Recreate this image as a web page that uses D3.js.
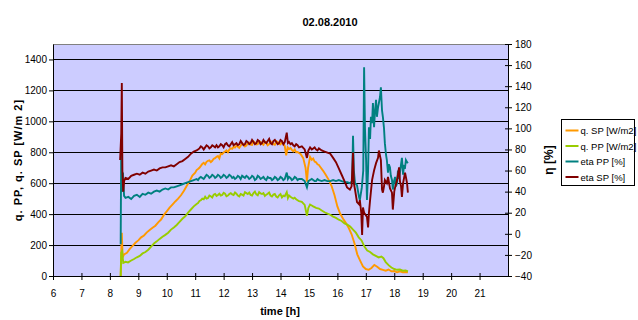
<!DOCTYPE html>
<html>
<head>
<meta charset="utf-8">
<script src="https://cdn.jsdelivr.net/npm/d3@7"></script>
<style>
  body { margin: 0; background: #fff; }
  text { font-family: "Liberation Sans", Arial, sans-serif; }
</style>
</head>
<body>
<div id="chart"></div>
<script>
// ---- data (time in hours, value) ----
const xTicks = [6, 7, 8, 9, 10, 11, 12, 13, 14, 15, 16, 17, 18, 19, 20, 21];
const leftTicks = [0, 200, 400, 600, 800, 1000, 1200, 1400];
const rightTicks = [-40, -20, 0, 20, 40, 60, 80, 100, 120, 140, 160, 180];
const seriesNames = ["q. SP [W/m2]", "q. PP [W/m2]", "eta PP [%]", "eta SP [%]"];
const seriesColors = ["#ff9900", "#99cc00", "#008080", "#800000"];

const qSP = [[8.38,0],[8.40,150],[8.42,280],[8.45,120],[8.50,140],[8.60,150],[8.70,175],[8.80,195],[8.90,215],[9.00,230],[9.10,250],[9.20,262],[9.30,282],[9.40,298],[9.50,312],[9.60,325],[9.70,347],[9.80,365],[9.90,395],[10.0,418],[10.1,442],[10.2,462],[10.3,482],[10.4,500],[10.5,522],[10.6,550],[10.7,582],[10.8,612],[10.9,650],
  [11.0,668],[11.05,685],[11.1,692],[11.15,700],[11.2,712],[11.25,725],[11.3,732],[11.35,722],[11.4,738],[11.45,745],[11.5,748],[11.55,736],[11.6,745],[11.65,758],[11.7,762],[11.75,770],[11.8,775],[11.85,760],[11.9,792],[11.95,788],[12.0,798],[12.05,805],[12.1,812],[12.15,800],[12.2,818],[12.25,826],[12.3,822],[12.35,835],[12.4,830],[12.45,842],[12.5,836],[12.55,828],[12.6,842],[12.65,855],[12.7,852],[12.75,838],[12.8,844],[12.85,858],[12.9,862],[12.95,850],[13.0,848],[13.05,870],[13.1,862],[13.15,850],[13.2,852],[13.25,872],[13.3,866],[13.35,855],[13.4,848],[13.45,868],[13.5,862],[13.55,845],[13.6,852],[13.65,870],[13.7,862],[13.75,852],[13.8,848],[13.85,872],[13.9,866],[13.95,852],[14.0,850],[14.05,868],[14.1,856],
  [14.15,840],[14.2,780],[14.25,832],[14.3,820],[14.35,828],[14.4,816],[14.45,806],[14.5,818],[14.55,800],[14.6,802],[14.65,795],[14.7,790],[14.8,762],[14.88,700],[14.93,610],[14.97,700],[15.04,770],[15.1,752],[15.15,760],[15.2,740],[15.25,735],[15.3,722],[15.35,718],[15.4,705],[15.5,680],[15.6,652],[15.7,620],[15.8,580],[15.9,522],[16.0,450],[16.1,402],[16.2,370],[16.3,342],[16.4,310],[16.5,270],[16.6,212],[16.7,140],[16.8,100],[16.9,62],[17.0,45],[17.1,40],[17.2,52],[17.3,72],[17.4,60],[17.5,45],[17.6,40],[17.7,34],[17.8,42],[17.9,30],[18.0,32],[18.1,24],[18.2,30],[18.3,24],[18.4,26],[18.48,24]];

const qPP = [[8.38,0],[8.40,150],[8.43,160],[8.47,85],[8.55,92],[8.64,88],[8.75,100],[8.85,110],[8.95,121],[9.05,130],[9.15,146],[9.25,155],[9.35,170],[9.45,190],[9.55,210],[9.65,224],[9.75,240],[9.85,254],[9.95,266],[10.05,280],[10.15,300],[10.25,314],[10.35,330],[10.45,350],[10.55,370],[10.65,386],[10.75,410],[10.85,430],[10.95,450],
  [11.05,466],[11.1,472],[11.15,485],[11.2,490],[11.25,500],[11.3,496],[11.35,512],[11.4,500],[11.45,504],[11.5,520],[11.55,516],[11.6,508],[11.65,526],[11.7,530],[11.75,518],[11.8,524],[11.85,532],[11.9,520],[11.95,524],[12.0,538],[12.05,532],[12.1,516],[12.15,520],[12.2,530],[12.25,536],[12.3,528],[12.35,524],[12.4,540],[12.45,532],[12.5,520],[12.55,514],[12.6,530],[12.65,526],[12.7,520],[12.75,542],[12.8,536],[12.85,530],[12.9,540],[12.95,524],[13.0,520],[13.05,536],[13.1,546],[13.15,528],[13.2,522],[13.25,542],[13.3,534],[13.35,530],[13.4,536],[13.45,518],[13.5,526],[13.55,532],[13.6,540],[13.65,520],[13.7,514],[13.75,526],[13.8,530],[13.85,514],[13.9,508],[13.95,522],[14.0,530],[14.05,508],[14.1,520],[14.15,516],
  [14.22,542],[14.26,504],[14.3,520],[14.35,512],[14.4,506],[14.45,500],[14.5,506],[14.55,496],[14.6,490],[14.65,484],[14.75,480],[14.85,460],[14.93,390],[14.98,440],[15.04,462],[15.1,456],[15.15,450],[15.25,440],[15.35,436],[15.45,424],[15.55,412],[15.65,404],[15.75,396],[15.85,384],[15.95,376],[16.05,364],[16.15,356],[16.25,340],[16.35,332],[16.45,320],[16.55,300],[16.65,280],[16.75,250],[16.85,230],[16.95,190],[17.05,165],[17.15,155],[17.25,140],[17.35,130],[17.45,120],[17.55,126],[17.62,115],[17.7,90],[17.8,70],[17.9,55],[18.0,45],[18.1,40],[18.2,42],[18.3,34],[18.4,36],[18.48,30]];

const etaPP = [[8.38,-10],[8.40,90],[8.43,40],[8.46,58],[8.50,36],[8.55,34],[8.65,35],[8.75,33],[8.85,36],[8.95,37],[9.05,35],[9.15,38],[9.25,37],[9.35,39],[9.45,38],[9.55,40],[9.65,41],[9.75,40],[9.85,42],[9.95,43],[10.05,42],[10.15,44],[10.25,44],[10.35,45],[10.45,46],[10.55,47],[10.65,48],[10.75,49],[10.85,50],[10.95,51],
  [11.05,52],[11.1,51],[11.15,53],[11.2,54],[11.25,53],[11.3,52],[11.35,54],[11.4,56],[11.45,55],[11.5,53],[11.55,54],[11.6,56],[11.65,55],[11.7,53],[11.75,54],[11.8,56],[11.85,55],[11.9,53],[11.95,54],[12.0,56],[12.05,55],[12.1,53],[12.15,54],[12.2,56],[12.25,55],[12.3,53],[12.35,54],[12.4,52],[12.45,53],[12.5,55],[12.55,54],[12.6,52],[12.65,55],[12.7,54],[12.75,53],[12.8,55],[12.85,54],[12.9,52],[12.95,53],[13.0,55],[13.05,54],[13.1,51],[13.15,52],[13.2,55],[13.25,54],[13.3,52],[13.35,53],[13.4,54],[13.45,52],[13.5,51],[13.55,54],[13.6,53],[13.65,53],[13.7,51],[13.75,52],[13.8,54],[13.85,53],[13.9,51],[13.95,52],[14.0,54],[14.05,53],[14.1,51],[14.15,52],
  [14.22,58],[14.26,52],[14.3,54],[14.35,53],[14.4,51],[14.45,52],[14.5,54],[14.55,53],[14.6,51],[14.65,52],[14.75,52],[14.85,50],[14.93,44],[14.98,50],[15.04,51],[15.1,52],[15.15,51],[15.2,50],[15.25,50],[15.3,52],[15.35,51],[15.45,50],[15.55,51],[15.65,50],[15.75,50],[15.85,51],[15.95,50],[16.05,51],[16.15,50],[16.25,49],[16.35,49],[16.44,48],[16.52,50],[16.55,93],[16.58,60],[16.62,48],[16.69,46],[16.76,35],[16.79,32],[16.86,44],[16.91,60],[16.94,158],[16.97,100],[17.01,70],[17.04,32],[17.08,60],[17.11,101],[17.15,90],[17.18,111],[17.22,105],[17.25,124],[17.29,101],[17.32,115],[17.36,127],[17.39,111],[17.43,120],[17.46,124],[17.50,130],[17.53,139],[17.57,117],[17.60,111],[17.64,100],[17.67,86],[17.71,75],[17.74,70],[17.78,58],[17.81,66],[17.85,63],[17.88,55],[17.92,51],[17.95,42],[17.99,50],[18.03,54],[18.06,45],[18.10,48],[18.13,60],[18.17,52],[18.20,58],[18.24,66],[18.27,72],[18.31,56],[18.34,64],[18.38,63],[18.41,70],[18.45,68],[18.48,67]];

const etaSP = [[8.36,70],[8.40,95],[8.42,143],[8.44,60],[8.47,40],[8.50,50],[8.55,53],[8.65,52],[8.75,55],[8.85,56],[8.95,57],[9.05,56],[9.15,58],[9.25,57],[9.35,59],[9.45,60],[9.55,61],[9.65,60],[9.75,62],[9.85,63],[9.95,63],[10.05,64],[10.15,65],[10.25,64],[10.35,66],[10.45,68],[10.55,69],[10.65,71],[10.75,73],[10.85,76],[10.95,78],
  [11.05,79],[11.1,80],[11.15,81],[11.2,83],[11.25,82],[11.3,80],[11.35,82],[11.4,84],[11.45,83],[11.5,81],[11.55,82],[11.6,84],[11.65,83],[11.7,82],[11.75,84],[11.8,82],[11.85,83],[11.9,85],[11.95,84],[12.0,82],[12.05,85],[12.1,86],[12.15,84],[12.2,83],[12.25,85],[12.3,87],[12.35,84],[12.4,85],[12.45,86],[12.5,84],[12.55,85],[12.6,88],[12.65,86],[12.7,84],[12.75,85],[12.8,88],[12.85,87],[12.9,85],[12.95,86],[13.0,89],[13.05,87],[13.1,85],[13.15,86],[13.2,89],[13.25,88],[13.3,85],[13.35,86],[13.4,89],[13.45,87],[13.5,86],[13.55,88],[13.6,90],[13.65,86],[13.7,85],[13.75,88],[13.8,89],[13.85,87],[13.9,85],[13.95,86],[14.0,89],[14.05,88],[14.1,85],[14.15,87],
  [14.22,96],[14.26,86],[14.3,87],[14.35,85],[14.4,86],[14.45,84],[14.5,83],[14.55,85],[14.6,84],[14.65,82],[14.75,83],[14.85,80],[14.93,72],[14.98,79],[15.04,82],[15.1,80],[15.15,81],[15.2,82],[15.25,80],[15.3,79],[15.35,81],[15.45,79],[15.55,78],[15.65,77],[15.75,76],[15.85,72],[15.95,68],[16.05,62],[16.15,56],[16.25,50],[16.34,44],[16.44,42],[16.50,45],[16.55,77],[16.58,48],[16.62,42],[16.69,30],[16.76,28],[16.79,32],[16.84,20],[16.87,-1],[16.90,25],[16.94,20],[16.99,18],[17.04,16],[17.08,6],[17.11,20],[17.15,32],[17.22,51],[17.29,60],[17.36,67],[17.43,72],[17.46,79],[17.53,70],[17.57,42],[17.60,39],[17.64,45],[17.67,51],[17.74,48],[17.78,54],[17.85,43],[17.92,39],[17.95,23],[18.00,40],[18.03,44],[18.10,51],[18.17,63],[18.20,50],[18.24,45],[18.27,35],[18.31,48],[18.38,58],[18.45,48],[18.48,39]];

// ---- layout ----
const W = 638, H = 320;
const plot = { left: 53, right: 508, top: 44, bottom: 276 };

const svg = d3.select("#chart").append("svg")
  .attr("width", W).attr("height", H);

const x = d3.scaleLinear().domain([6, 22]).range([plot.left, plot.right]);
const yL = d3.scaleLinear().domain([0, 1500]).range([plot.bottom, plot.top]);
const yR = d3.scaleLinear().domain([-40, 180]).range([plot.bottom, plot.top]);

// plot background
svg.append("rect")
  .attr("x", plot.left).attr("y", plot.top)
  .attr("width", plot.right - plot.left).attr("height", plot.bottom - plot.top)
  .attr("fill", "#ccccff");

// gridlines (left axis)
svg.append("g").selectAll("line")
  .data(leftTicks.filter(d => d > 0))
  .join("line")
  .attr("x1", plot.left).attr("x2", plot.right)
  .attr("y1", d => Math.round(yL(d)) + 0.5).attr("y2", d => Math.round(yL(d)) + 0.5)
  .attr("stroke", "#000").attr("stroke-width", 1);

// plot border
svg.append("rect")
  .attr("x", plot.left + 0.5).attr("y", plot.top + 0.5)
  .attr("width", plot.right - plot.left).attr("height", plot.bottom - plot.top)
  .attr("fill", "none").attr("stroke", "#808080");

// series lines
const series = [
  { data: qSP, y: yL }, { data: qPP, y: yL },
  { data: etaPP, y: yR }, { data: etaSP, y: yR }
];
svg.append("clipPath").attr("id", "clip").append("rect")
  .attr("x", plot.left).attr("y", plot.top)
  .attr("width", plot.right - plot.left).attr("height", plot.bottom - plot.top);

const lines = svg.append("g").attr("clip-path", "url(#clip)");
series.forEach((s, i) => {
  const line = d3.line().x(d => x(d[0])).y(d => s.y(d[1]));
  lines.append("path")
    .datum(s.data)
    .attr("d", line)
    .attr("fill", "none")
    .attr("stroke", seriesColors[i])
    .attr("stroke-width", 1.9)
    .attr("stroke-linejoin", "miter");
});

// axes
const fontSize = "10px";
const xAxis = svg.append("g")
  .attr("transform", `translate(0,${plot.bottom})`)
  .call(d3.axisBottom(x).tickValues(xTicks).tickSize(4).tickSizeOuter(0));
xAxis.select(".domain").attr("stroke", "#000");
xAxis.selectAll(".tick line").attr("y1", -3).attr("y2", 4);
xAxis.selectAll("text").attr("dy", "1.35em").style("font-size", fontSize)
  .attr("font-family", null);

const lAxis = svg.append("g")
  .attr("transform", `translate(${plot.left},0)`)
  .call(d3.axisLeft(yL).tickValues(leftTicks).tickFormat(d3.format("d")).tickSize(4).tickSizeOuter(0));
lAxis.select(".domain").attr("stroke", "#000");
lAxis.selectAll("text").attr("x", -6).style("font-size", fontSize).attr("font-family", null);

const rAxis = svg.append("g")
  .attr("transform", `translate(${plot.right},0)`)
  .call(d3.axisRight(yR).tickValues(rightTicks).tickFormat(d3.format("d")).tickSize(4).tickSizeOuter(0));
rAxis.select(".domain").attr("stroke", "#000");
rAxis.selectAll(".tick line").attr("x1", -3).attr("x2", 4);
rAxis.selectAll("text").attr("x", 7).style("font-size", fontSize).attr("font-family", null);

// titles
svg.append("text")
  .attr("x", 330).attr("y", 26)
  .attr("text-anchor", "middle")
  .style("font-size", "11px").style("font-weight", "bold")
  .text("02.08.2010");

svg.append("text")
  .attr("x", 280).attr("y", 315)
  .attr("text-anchor", "middle")
  .style("font-size", "11px").style("font-weight", "bold")
  .text("time [h]");

svg.append("text")
  .attr("transform", `translate(22,${(plot.top + plot.bottom) / 2}) rotate(-90)`)
  .attr("text-anchor", "middle")
  .style("font-size", "11px").style("font-weight", "bold")
  .style("letter-spacing", "1px")
  .text("q. PP, q. SP [W/m 2]");

svg.append("text")
  .attr("transform", `translate(553,${(plot.top + plot.bottom) / 2}) rotate(-90)`)
  .attr("text-anchor", "middle")
  .style("font-size", "12px").style("font-weight", "bold")
  .text("η [%]");

// legend
const legend = svg.append("g").attr("transform", "translate(561.5,119.5)");
legend.append("rect")
  .attr("width", 73).attr("height", 66)
  .attr("fill", "#fff").attr("stroke", "#000");
seriesNames.forEach((name, i) => {
  const ly = 11 + i * 15.5;
  legend.append("line")
    .attr("x1", 4).attr("x2", 17).attr("y1", ly).attr("y2", ly)
    .attr("stroke", seriesColors[i]).attr("stroke-width", 2);
  legend.append("text")
    .attr("x", 19).attr("y", ly + 3.5)
    .style("font-size", "9.5px")
    .text(name);
});
</script>
</body>
</html>
